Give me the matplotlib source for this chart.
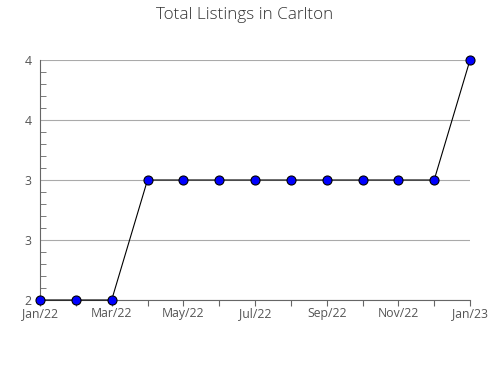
import matplotlib
matplotlib.use('Agg')
import matplotlib.pyplot as plt
from matplotlib.ticker import MultipleLocator, FuncFormatter

months = ['Jan/22', 'Feb/22', 'Mar/22', 'Apr/22', 'May/22', 'Jun/22', 'Jul/22',
          'Aug/22', 'Sep/22', 'Oct/22', 'Nov/22', 'Dec/22', 'Jan/23']
listings = [2, 2, 2, 3, 3, 3, 3, 3, 3, 3, 3, 3, 4]

plt.rcParams['font.family'] = ['Open Sans', 'DejaVu Sans']

fig = plt.figure(figsize=(4.9, 3.8), dpi=100)
ax = fig.add_axes([40/490, 80/380, 430/490, 240/380])

x = list(range(len(months)))
ax.plot(x, listings, color='black', lw=0.8, marker='o', markersize=6.5,
        markerfacecolor='#0000ff', markeredgecolor='black', markeredgewidth=0.8,
        clip_on=False, zorder=3)

ax.set_xlim(0, len(months) - 1)
ax.set_ylim(2, 4)
ax.set_xticks(x)
ax.set_xticklabels([m if i % 2 == 0 else '' for i, m in enumerate(months)])
ax.yaxis.set_major_locator(MultipleLocator(0.5))
ax.yaxis.set_minor_locator(MultipleLocator(0.1))
ax.yaxis.set_major_formatter(FuncFormatter(lambda v, p: '%d' % round(v + 1e-9)))
ax.yaxis.grid(True, color='#aaaaaa', lw=0.8)
ax.set_axisbelow(True)

for s in ['top', 'right']:
    ax.spines[s].set_visible(False)
for s in ['left', 'bottom']:
    ax.spines[s].set_color('#666666')
    ax.spines[s].set_linewidth(0.8)

ax.tick_params(axis='x', direction='out', length=4, color='#666666', labelsize=8.8,
               labelcolor='#555555', pad=1)
ax.tick_params(axis='y', which='major', direction='in', length=0, labelsize=8.8,
               labelcolor='#555555', pad=6)
ax.tick_params(axis='y', which='minor', direction='in', length=4, color='#666666')

fig.text(0.5, 1 - 15/380, 'Total Listings in Carlton', ha='center', va='center',
         fontsize=12.3, color='#333333', fontweight='light')

fig.savefig('out.png', dpi=100)
